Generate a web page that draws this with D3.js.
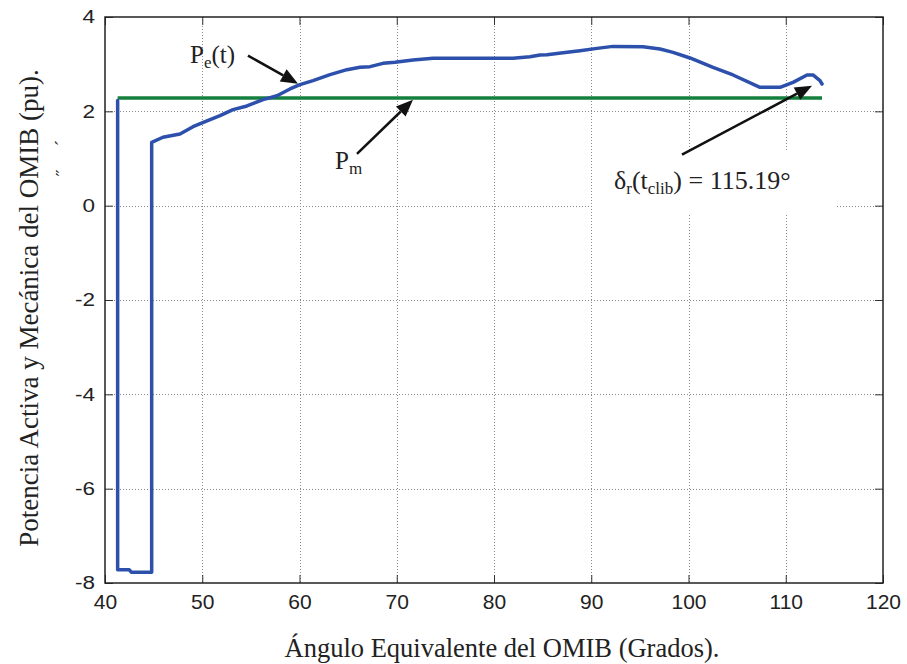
<!DOCTYPE html>
<html>
<head>
<meta charset="utf-8">
<script src="https://cdn.jsdelivr.net/npm/d3@7"></script>
<style>
  html, body { margin: 0; padding: 0; background: #fff; }
  svg { display: block; }
</style>
</head>
<body>
<svg id="chart" width="907" height="664"></svg>
<script>
// ---------------- data ----------------
const xTicks = [40, 50, 60, 70, 80, 90, 100, 110, 120];
const yTicks = [-8, -6, -4, -2, 0, 2, 4];
const xTickLabels = ["40", "50", "60", "70", "80", "90", "100", "110", "120"];
const yTickLabels = ["-8", "-6", "-4", "-2", "0", "2", "4"];

// Pe(t) curve: angle (deg) and active power (pu)
const peAngle = [41.3, 41.3, 42.5, 42.7, 44.8, 44.8, 45.96, 47.71, 49.05, 50.49, 51.83, 53.16, 54.60, 56.25, 57.69,
  59.02, 60.05, 61.39, 63.14, 64.88, 66.22, 67.25, 68.59, 69.82, 71.05, 71.67, 73.73, 81.95, 83.70, 84.73,
  85.45, 87.10, 88.84, 90.59, 92.24, 95.32, 97.07, 98.41, 100.15, 102.52, 104.58, 107.35, 109.41, 110.75,
  112.19, 112.80, 113.52, 113.73];
const peValue = [2.23, -7.72, -7.72, -7.77, -7.77, 1.34, 1.45, 1.52, 1.675, 1.80, 1.91, 2.035, 2.114, 2.247, 2.33,
  2.474, 2.565, 2.65, 2.777, 2.883, 2.936, 2.947, 3.017, 3.042, 3.074, 3.089, 3.127, 3.127, 3.159, 3.195,
  3.20, 3.243, 3.286, 3.335, 3.377, 3.371, 3.322, 3.25, 3.131, 2.932, 2.771, 2.508, 2.508, 2.614,
  2.771, 2.771, 2.65, 2.58];

// Pm: mechanical power (pu)
const pmAngle = [41.3, 113.73];
const pmValue = [2.283, 2.283];

// annotations (data units)
const arrowsData = [
  { from: [54.70, 3.18], to: [59.85, 2.586] },   // Pe(t)
  { from: [65.91, 1.10], to: [71.67, 2.247] },   // Pm
  { from: [99.33, 1.08], to: [112.70, 2.544] }   // delta
];

// ---------------- layout ----------------
const svg = d3.select("#chart");
const x = d3.scaleLinear().domain([40, 120]).range([105, 883]);
const y = d3.scaleLinear().domain([-8, 4]).range([583, 17]);
const X0 = x.range()[0], X1 = x.range()[1], Y0 = y.range()[0], Y1 = y.range()[1];

const tickFont = "'Liberation Sans', Arial, sans-serif";
const serif = "'Liberation Serif', 'Times New Roman', serif";

// grid
const grid = svg.append("g").attr("stroke", "#8a8a8a").attr("stroke-width", 1).attr("stroke-dasharray", "1,2");
grid.selectAll("line.gx").data(xTicks.slice(1, -1)).join("line")
  .attr("x1", d => Math.round(x(d)) + 0.5).attr("x2", d => Math.round(x(d)) + 0.5)
  .attr("y1", Y1).attr("y2", Y0);
grid.selectAll("line.gy").data(yTicks.slice(1, -1)).join("line")
  .attr("y1", d => Math.round(y(d)) + 0.5).attr("y2", d => Math.round(y(d)) + 0.5)
  .attr("x1", X0).attr("x2", X1);

// white box behind the delta label
svg.append("rect")
  .attr("x", x(90.08)).attr("y", y(1.166))
  .attr("width", x(115.07) - x(90.08)).attr("height", y(-0.17) - y(1.166))
  .attr("fill", "#fff");

// axes with inward ticks
const axB = svg.append("g").attr("transform", `translate(0,${Y0})`)
  .call(d3.axisBottom(x).tickValues(xTicks).tickSize(-8).tickPadding(11)
    .tickFormat((d, i) => xTickLabels[i]));
const axT = svg.append("g").attr("transform", `translate(0,${Y1})`)
  .call(d3.axisTop(x).tickValues(xTicks).tickSize(-8).tickFormat(""));
const axL = svg.append("g").attr("transform", `translate(${X0},0)`)
  .call(d3.axisLeft(y).tickValues(yTicks).tickSize(-8).tickPadding(8)
    .tickFormat((d, i) => yTickLabels[i]));
const axR = svg.append("g").attr("transform", `translate(${X1},0)`)
  .call(d3.axisRight(y).tickValues(yTicks).tickSize(-8).tickFormat(""));

[axB, axT, axL, axR].forEach(a => {
  a.select(".domain").remove();
  a.selectAll(".tick line").attr("stroke", "#333").attr("stroke-width", 1);
});
axB.selectAll("text").attr("font-family", tickFont).attr("font-size", 21).attr("fill", "#222");
axL.selectAll("text").attr("font-family", tickFont).attr("font-size", 18).attr("fill", "#222")
  .attr("transform", "scale(1.25,1)");

// frame
svg.append("rect").attr("x", X0).attr("y", Y1).attr("width", X1 - X0).attr("height", Y0 - Y1)
  .attr("fill", "none").attr("stroke", "#222").attr("stroke-width", 1.5);

// lines
const line = d3.line().x(d => x(d[0])).y(d => y(d[1]));
svg.append("path")
  .datum(pmAngle.map((a, i) => [a, pmValue[i]]))
  .attr("d", line).attr("fill", "none").attr("stroke", "#15803d").attr("stroke-width", 3.5);
svg.append("path")
  .datum(peAngle.map((a, i) => [a, peValue[i]]))
  .attr("d", line).attr("fill", "none").attr("stroke", "#2c50ab").attr("stroke-width", 3.5)
  .attr("stroke-linejoin", "round").attr("stroke-linecap", "round");

// arrows
const ag = svg.append("g");
arrowsData.forEach(a => {
  const x1 = x(a.from[0]), y1 = y(a.from[1]), x2 = x(a.to[0]), y2 = y(a.to[1]);
  const ang = Math.atan2(y2 - y1, x2 - x1);
  const L = 17, W = 7;
  const bx = x2 - L * Math.cos(ang), by = y2 - L * Math.sin(ang);
  const px = -Math.sin(ang), py = Math.cos(ang);
  ag.append("line").attr("x1", x1).attr("y1", y1).attr("x2", bx).attr("y2", by)
    .attr("stroke", "#111").attr("stroke-width", 2.5);
  ag.append("path")
    .attr("d", `M${x2},${y2}L${bx + W * px},${by + W * py}L${bx - W * px},${by - W * py}Z`)
    .attr("fill", "#111");
});

// labels
const pe = svg.append("text").attr("x", x(48.74)).attr("y", y(3.03))
  .attr("font-family", serif).attr("font-size", 25).attr("fill", "#222");
pe.append("tspan").text("P");
pe.append("tspan").attr("font-size", 17).attr("dy", 5).text("e");
pe.append("tspan").attr("dy", -5).text("(t)");

const pm = svg.append("text").attr("x", x(63.65)).attr("y", y(0.778))
  .attr("font-family", serif).attr("font-size", 25).attr("fill", "#222");
pm.append("tspan").text("P");
pm.append("tspan").attr("font-size", 17).attr("dy", 5).text("m");

const dl = svg.append("text").attr("x", x(92.34)).attr("y", y(0.36))
  .attr("font-family", serif).attr("font-size", 26).attr("fill", "#222");
dl.append("tspan").text("δ");
dl.append("tspan").attr("font-size", 17).attr("dy", 5).text("r");
dl.append("tspan").attr("dy", -5).text("(t");
dl.append("tspan").attr("font-size", 17).attr("dy", 5).text("clib");
dl.append("tspan").attr("dy", -5).text(") = 115.19°");

// axis titles
svg.append("text").attr("x", 502).attr("y", 657).attr("text-anchor", "middle")
  .attr("font-family", serif).attr("font-size", 26.5).attr("fill", "#222")
  .text("Ángulo Equivalente del OMIB (Grados).");
svg.append("text").attr("transform", "translate(38,308) rotate(-90)").attr("text-anchor", "middle")
  .attr("font-family", serif).attr("font-size", 27).attr("fill", "#222")
  .text("Potencia Activa y Mecánica del OMIB (pu).");

// stray accent marks left of the axis
svg.append("text").attr("transform", "translate(68,146) rotate(-90)")
  .attr("font-family", serif).attr("font-size", 18).attr("fill", "#333").text("´");
svg.append("text").attr("transform", "translate(69,176) rotate(-90)")
  .attr("font-family", serif).attr("font-size", 18).attr("fill", "#333").text("˝");
</script>
</body>
</html>
